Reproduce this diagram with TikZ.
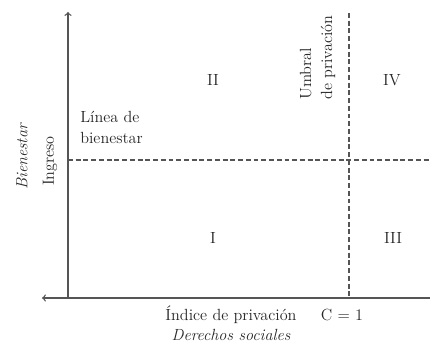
\documentclass[tikz,border=0pt]{standalone}
\usepackage{xcolor}
\definecolor{axisgray}{HTML}{555555}
\definecolor{textgray}{HTML}{262626}
\begin{document}
\begin{tikzpicture}[font=\fontsize{11.5}{15}\selectfont, text=textgray,
    axis/.style={draw=axisgray, line width=0.9pt},
    limit/.style={draw=axisgray, line width=0.8pt, dash pattern=on 3.5pt off 2pt}]
    \useasboundingbox (0, 0) rectangle (10.75, 8.725);

    \coordinate(O) at (1.7, 1.275);
    \coordinate(Top) at (1.7, 8.425);
    \coordinate(Left) at (1.05, 1.275);
    \coordinate(Right) at (10.75, 1.275);
    \coordinate(LB) at (1.7, 4.725);
    \coordinate(LBend) at (10.75, 4.725);
    \coordinate(UP) at (8.725, 8.4);
    \coordinate(C) at (8.725, 1.275);

    \draw [axis, ->] (O)--(Top);
    \draw [axis, ->] (Right)--(Left);
    \draw [limit] (LB)--(LBend);
    \draw [limit] (UP)--(C);

    \node(II) at (5.325, 6.725) {II};
    \node(IV) at (9.8, 6.725) {IV};
    \node(I) at (5.325, 2.775) {I};
    \node(III) at (9.825, 2.775) {III};

    \node(linea) [anchor=west, align=left, inner sep=0pt] at (2.0, 5.55) {Línea de\\bienestar};
    \node(umbral) [rotate=90, anchor=west, align=left, inner sep=0pt] at (7.94, 6.225) {Umbral\\de privación};

    \node(ingreso) [rotate=90] at (1.25, 4.7) {Ingreso};
    \node(bienestar) [rotate=90] at (0.55, 4.8) {\itshape Bienestar};
    \node(indice) at (5.775, 0.85) {Índice de privación};
    \node(derechos) at (5.775, 0.35) {\itshape Derechos sociales};
    \node(c1) at (8.55, 0.85) {C = 1};
\end{tikzpicture}
\end{document}
